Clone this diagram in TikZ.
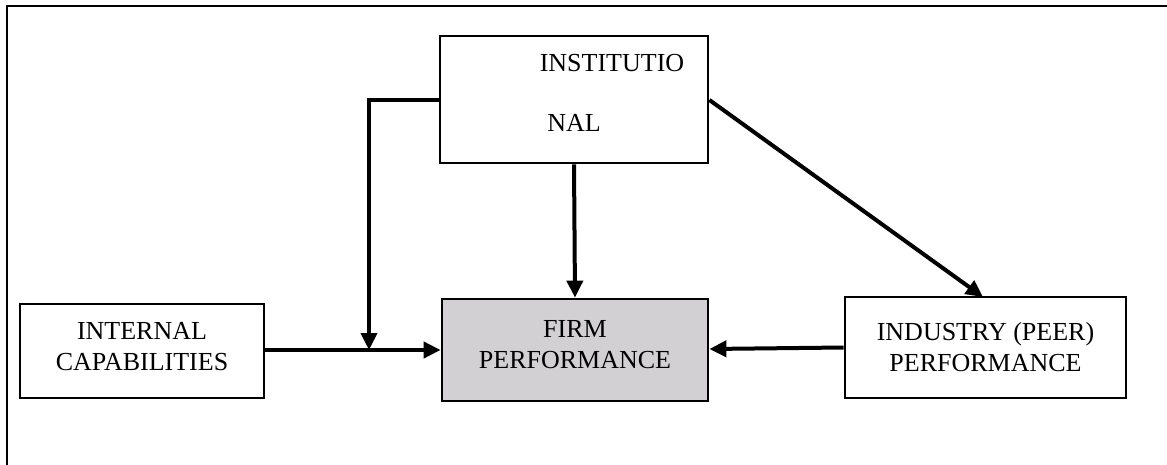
\documentclass[tikz,border=0pt]{standalone}
\usepackage{fontspec}
\setmainfont{Liberation Serif}
\usetikzlibrary{arrows.meta}

\definecolor{firmgray}{RGB}{210,208,211}

\begin{document}
\begin{tikzpicture}[x=1pt, y=-1pt,
	box/.style = {draw = black, line width = 2.8pt, align = center, inner sep = 0pt,
		font = \fontsize{26}{31}\selectfont},
	link/.style = {line width = 4pt, -{Triangle[length=17pt, width=16pt]}}]
    	\useasboundingbox (0,0) rectangle (1167,465);
    	\begin{scope}
      	  \draw[draw = black, line width = 1.8pt] (7,465) -- (7,6) -- (1167,6);
    		\node[box, minimum width = 268pt, minimum height = 127pt] at (574,99.5) (inst) {};
    		\node[font = \fontsize{26}{31}\selectfont, anchor = base, inner sep = 0pt] at (612,72) (instA) {INSTITUTIO};
    		\node[font = \fontsize{26}{31}\selectfont, anchor = base, inner sep = 0pt] at (574,132) (instB) {NAL};
    		\node[box, fill = firmgray, minimum width = 266pt, minimum height = 102pt, text depth = 12pt] at (575,350) (firm) {FIRM\\PERFORMANCE};
    		\node[box, minimum width = 244pt, minimum height = 94pt, text depth = 10pt] at (142,351) (intcap) {INTERNAL\\CAPABILITIES};
    		\node[box, minimum width = 281pt, minimum height = 101pt] at (985.5,347.5) (peer) {INDUSTRY (PEER)\\PERFORMANCE};
    	\end{scope}

    	\begin{scope}
    		\coordinate (turn) at (369,100);
    		\coordinate (join) at (369,350);
    		\draw[link] (inst.west |- turn) -- (turn) -- (join);
    		\draw[link] (intcap.east |- join) -- (firm.west |- join);
    		\draw[link] (inst.south) -- (firm.north);
    		\draw[link] (inst.east |- turn) -- (983,297);
    		\draw[link] (peer.west) -- ([yshift=1pt]firm.east);
    	\end{scope}

	\end{tikzpicture}
\end{document}
